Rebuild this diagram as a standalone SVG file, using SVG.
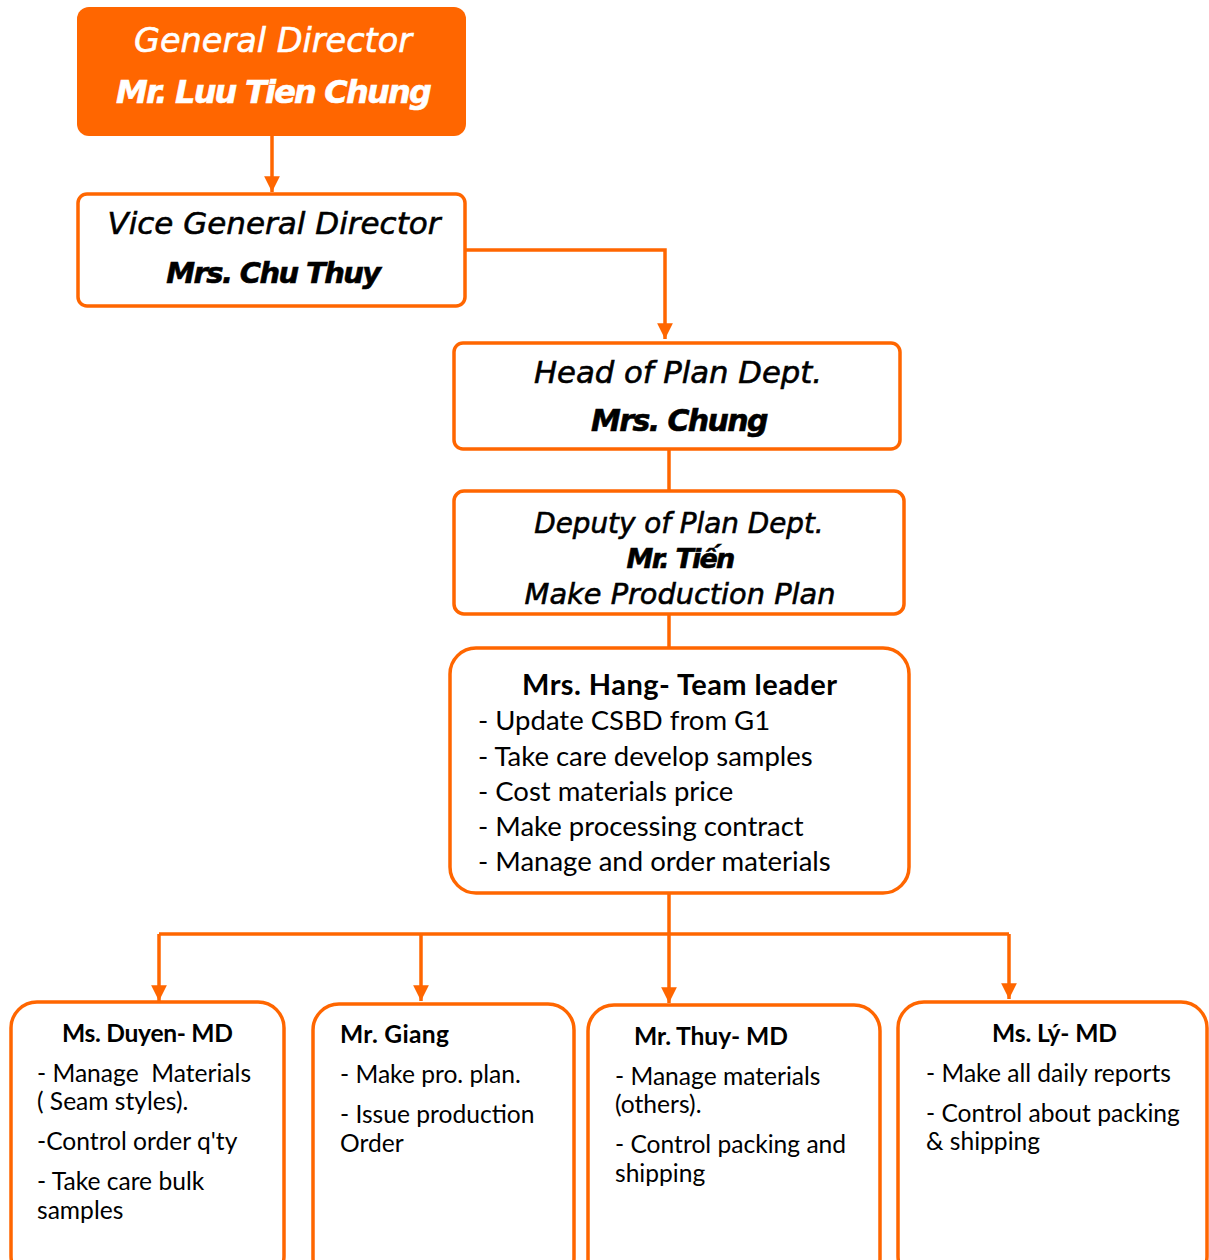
<svg xmlns="http://www.w3.org/2000/svg" width="1209" height="1260" viewBox="0 0 1209 1260">
<style>
.box{fill:#fff;stroke:#FF6600;stroke-width:3.5}
.cg{font-family:"DejaVu Sans",sans-serif;font-style:oblique;fill:#000;text-anchor:middle;stroke:#000;stroke-width:0.6}
.w{fill:#fff;stroke:#fff}
.b{font-weight:bold}
.cal{font-family:Lato,"Liberation Sans",sans-serif;fill:#000;font-size:24.6px}
.cal2{font-family:Lato,"Liberation Sans",sans-serif;fill:#000;font-size:27.5px}
.conn{fill:none;stroke:#FF6600;stroke-width:3.5}
</style>
<defs>
<marker id="ah" viewBox="0 0 10 10" refX="10" refY="5" markerWidth="4.5" markerHeight="4.5" orient="auto" markerUnits="strokeWidth">
<path d="M0,0 L10,5 L0,10 z" fill="#FF6600"/>
</marker>
</defs>
<rect width="1209" height="1260" fill="#fff"/>
<g id="connectors">
<path class="conn" d="M272,136 V192" marker-end="url(#ah)"/>
<path class="conn" d="M465,250 H665 V339" marker-end="url(#ah)"/>
<path class="conn" d="M669,449 V491"/>
<path class="conn" d="M669,614 V648"/>
<path class="conn" d="M669,893 V1003" marker-end="url(#ah)"/>
<path class="conn" d="M159,934 H1009"/>
<path class="conn" d="M159,934 V1001" marker-end="url(#ah)"/>
<path class="conn" d="M421,934 V1001" marker-end="url(#ah)"/>
<path class="conn" d="M1009,934 V999" marker-end="url(#ah)"/>
</g>
<g id="gd">
<rect x="77" y="7" width="389" height="129" rx="12" fill="#FF6600"/>
<text class="cg w" x="273" y="52" font-size="33.5">General Director</text>
<text class="cg b w" x="273" y="103" font-size="32" letter-spacing="-1.8" stroke-width="0.3">Mr. Luu Tien Chung</text>
</g>
<g id="vgd">
<rect class="box" x="78" y="194" width="387" height="112" rx="9"/>
<text class="cg" x="274" y="234" font-size="31">Vice General Director</text>
<text class="cg b" x="273" y="283" font-size="29" letter-spacing="-1.6" stroke-width="0.3">Mrs. Chu Thuy</text>
</g>
<g id="head">
<rect class="box" x="454" y="343" width="446" height="106" rx="9"/>
<text class="cg" x="678" y="383" font-size="30.7">Head of Plan Dept.</text>
<text class="cg b" x="679" y="431" font-size="30" letter-spacing="-1.6" stroke-width="0.3">Mrs. Chung</text>
</g>
<g id="deputy">
<rect class="box" x="454" y="491" width="450" height="123" rx="10"/>
<text class="cg" x="679" y="533" font-size="27.8">Deputy of Plan Dept.</text>
<text class="cg b" x="680" y="568" font-size="27" letter-spacing="-1.8" stroke-width="0.3">Mr. Tiến</text>
<text class="cg" x="680" y="604" font-size="28.8">Make Production Plan</text>
</g>
<g id="hang">
<rect class="box" x="450" y="648" width="459" height="245" rx="26"/>
<text class="b" x="522" y="695" font-family="Lato, 'Liberation Sans', sans-serif" font-size="29" textLength="315">Mrs. Hang- Team leader</text>
<text class="cal2" x="478" y="730">- Update CSBD from G1</text>
<text class="cal2" x="478" y="766">- Take care develop samples</text>
<text class="cal2" x="478" y="801">- Cost materials price</text>
<text class="cal2" x="478" y="836">- Make processing contract</text>
<text class="cal2" x="478" y="871">- Manage and order materials</text>
</g>
<g id="duyen">
<rect class="box" x="11" y="1002" width="273" height="280" rx="26"/>
<text class="cal b" x="62" y="1042" textLength="171">Ms. Duyen- MD</text>
<text class="cal" x="37" y="1082" xml:space="preserve">- Manage  Materials</text>
<text class="cal" x="37" y="1110">( Seam styles).</text>
<text class="cal" x="37" y="1150">-Control order q'ty</text>
<text class="cal" x="37" y="1190">- Take care bulk</text>
<text class="cal" x="37" y="1219">samples</text>
</g>
<g id="giang">
<rect class="box" x="313" y="1004" width="261" height="280" rx="26"/>
<text class="cal b" x="340" y="1043" textLength="109">Mr. Giang</text>
<text class="cal" x="340" y="1083">- Make pro. plan.</text>
<text class="cal" x="340" y="1123">- Issue production</text>
<text class="cal" x="340" y="1152">Order</text>
</g>
<g id="thuy">
<rect class="box" x="588" y="1005" width="292" height="280" rx="26"/>
<text class="cal b" x="634" y="1045" textLength="154">Mr. Thuy- MD</text>
<text class="cal" x="615" y="1085">- Manage materials</text>
<text class="cal" x="615" y="1113">(others).</text>
<text class="cal" x="615" y="1153">- Control packing and</text>
<text class="cal" x="615" y="1182">shipping</text>
</g>
<g id="ly">
<rect class="box" x="898" y="1002" width="309" height="280" rx="26"/>
<text class="cal b" x="992" y="1042" textLength="125">Ms. Lý- MD</text>
<text class="cal" x="926" y="1082">- Make all daily reports</text>
<text class="cal" x="926" y="1122">- Control about packing</text>
<text class="cal" x="926" y="1150">&amp; shipping</text>
</g>
</svg>
